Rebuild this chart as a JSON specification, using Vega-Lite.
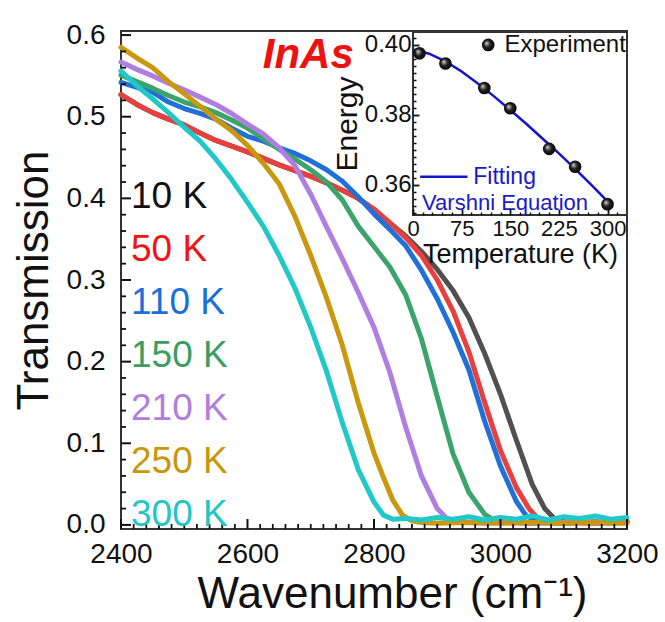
{
"$schema": "https://vega.github.io/schema/vega-lite/v6.json",
"width": 506, "height": 498,
"autosize": {"type": "none"},
"padding": {"left": 121, "top": 31, "right": 38, "bottom": 93},
"background": "white",
"config": {
 "font": "Liberation Sans",
 "view": {"stroke": "#333", "strokeWidth": 2},
 "axis": {"grid": false, "domainColor": "#333", "domainWidth": 2, "labelColor": "#111", "titleColor": "#111", "titleFontWeight": "normal", "labelFont": "Liberation Sans", "titleFont": "Liberation Sans", "labelOverlap": false, "labelFlush": false, "labelBound": false}
},
"datasets": {
 "xmaj": [{"v":2400},{"v":2600},{"v":2800},{"v":3000},{"v":3200}],
 "xmin": [{"v":2420},{"v":2440},{"v":2460},{"v":2480},{"v":2500},{"v":2520},{"v":2540},{"v":2560},{"v":2580},{"v":2620},{"v":2640},{"v":2660},{"v":2680},{"v":2700},{"v":2720},{"v":2740},{"v":2760},{"v":2780},{"v":2820},{"v":2840},{"v":2860},{"v":2880},{"v":2900},{"v":2920},{"v":2940},{"v":2960},{"v":2980},{"v":3020},{"v":3040},{"v":3060},{"v":3080},{"v":3100},{"v":3120},{"v":3140},{"v":3160},{"v":3180}],
 "ymaj": [{"v":0},{"v":0.1},{"v":0.2},{"v":0.3},{"v":0.4},{"v":0.5},{"v":0.6}],
 "ymin": [{"v":0.02},{"v":0.04},{"v":0.06},{"v":0.08},{"v":0.12},{"v":0.14},{"v":0.16},{"v":0.18},{"v":0.22},{"v":0.24},{"v":0.26},{"v":0.28},{"v":0.32},{"v":0.34},{"v":0.36},{"v":0.38},{"v":0.42},{"v":0.44},{"v":0.46},{"v":0.48},{"v":0.52},{"v":0.54},{"v":0.56},{"v":0.58}],
 "spectra": [
  {"s":"10 K","w":2400,"t":0.527},{"s":"10 K","w":2425,"t":0.515},{"s":"10 K","w":2450,"t":0.505},{"s":"10 K","w":2475,"t":0.497},{"s":"10 K","w":2500,"t":0.490},{"s":"10 K","w":2525,"t":0.480},{"s":"10 K","w":2550,"t":0.471},{"s":"10 K","w":2575,"t":0.464},{"s":"10 K","w":2600,"t":0.457},{"s":"10 K","w":2625,"t":0.449},{"s":"10 K","w":2650,"t":0.441},{"s":"10 K","w":2675,"t":0.434},{"s":"10 K","w":2700,"t":0.427},{"s":"10 K","w":2725,"t":0.419},{"s":"10 K","w":2750,"t":0.410},{"s":"10 K","w":2775,"t":0.400},{"s":"10 K","w":2800,"t":0.386},{"s":"10 K","w":2825,"t":0.370},{"s":"10 K","w":2850,"t":0.354},{"s":"10 K","w":2875,"t":0.335},{"s":"10 K","w":2900,"t":0.313},{"s":"10 K","w":2925,"t":0.287},{"s":"10 K","w":2950,"t":0.254},{"s":"10 K","w":2975,"t":0.210},{"s":"10 K","w":3000,"t":0.160},{"s":"10 K","w":3025,"t":0.104},{"s":"10 K","w":3050,"t":0.050},{"s":"10 K","w":3070,"t":0.020},{"s":"10 K","w":3085,"t":0.008},{"s":"10 K","w":3100,"t":0.004},{"s":"10 K","w":3125,"t":0.003},{"s":"10 K","w":3150,"t":0.002},{"s":"10 K","w":3175,"t":0.004},{"s":"10 K","w":3200,"t":0.003},
  {"s":"50 K","w":2400,"t":0.527},{"s":"50 K","w":2425,"t":0.515},{"s":"50 K","w":2450,"t":0.505},{"s":"50 K","w":2475,"t":0.497},{"s":"50 K","w":2500,"t":0.490},{"s":"50 K","w":2525,"t":0.480},{"s":"50 K","w":2550,"t":0.471},{"s":"50 K","w":2575,"t":0.464},{"s":"50 K","w":2600,"t":0.457},{"s":"50 K","w":2625,"t":0.449},{"s":"50 K","w":2650,"t":0.441},{"s":"50 K","w":2675,"t":0.434},{"s":"50 K","w":2700,"t":0.427},{"s":"50 K","w":2725,"t":0.419},{"s":"50 K","w":2750,"t":0.410},{"s":"50 K","w":2775,"t":0.400},{"s":"50 K","w":2800,"t":0.387},{"s":"50 K","w":2825,"t":0.370},{"s":"50 K","w":2850,"t":0.352},{"s":"50 K","w":2875,"t":0.330},{"s":"50 K","w":2900,"t":0.300},{"s":"50 K","w":2925,"t":0.262},{"s":"50 K","w":2950,"t":0.212},{"s":"50 K","w":2975,"t":0.150},{"s":"50 K","w":3000,"t":0.091},{"s":"50 K","w":3025,"t":0.046},{"s":"50 K","w":3045,"t":0.020},{"s":"50 K","w":3060,"t":0.007},{"s":"50 K","w":3075,"t":0.003},{"s":"50 K","w":3100,"t":0.002},{"s":"50 K","w":3125,"t":0.003},{"s":"50 K","w":3150,"t":0.002},{"s":"50 K","w":3175,"t":0.004},{"s":"50 K","w":3200,"t":0.005},
  {"s":"110 K","w":2400,"t":0.542},{"s":"110 K","w":2425,"t":0.536},{"s":"110 K","w":2450,"t":0.530},{"s":"110 K","w":2475,"t":0.518},{"s":"110 K","w":2500,"t":0.510},{"s":"110 K","w":2525,"t":0.504},{"s":"110 K","w":2550,"t":0.497},{"s":"110 K","w":2575,"t":0.486},{"s":"110 K","w":2600,"t":0.476},{"s":"110 K","w":2625,"t":0.470},{"s":"110 K","w":2650,"t":0.462},{"s":"110 K","w":2675,"t":0.455},{"s":"110 K","w":2700,"t":0.446},{"s":"110 K","w":2725,"t":0.435},{"s":"110 K","w":2750,"t":0.421},{"s":"110 K","w":2775,"t":0.402},{"s":"110 K","w":2800,"t":0.381},{"s":"110 K","w":2825,"t":0.362},{"s":"110 K","w":2850,"t":0.342},{"s":"110 K","w":2875,"t":0.312},{"s":"110 K","w":2900,"t":0.277},{"s":"110 K","w":2925,"t":0.236},{"s":"110 K","w":2950,"t":0.190},{"s":"110 K","w":2975,"t":0.127},{"s":"110 K","w":3000,"t":0.072},{"s":"110 K","w":3025,"t":0.029},{"s":"110 K","w":3040,"t":0.012},{"s":"110 K","w":3055,"t":0.005},{"s":"110 K","w":3075,"t":0.003},{"s":"110 K","w":3100,"t":0.002},{"s":"110 K","w":3125,"t":0.003},{"s":"110 K","w":3150,"t":0.004},{"s":"110 K","w":3175,"t":0.003},{"s":"110 K","w":3200,"t":0.004},
  {"s":"150 K","w":2400,"t":0.551},{"s":"150 K","w":2425,"t":0.543},{"s":"150 K","w":2450,"t":0.535},{"s":"150 K","w":2475,"t":0.526},{"s":"150 K","w":2500,"t":0.518},{"s":"150 K","w":2525,"t":0.512},{"s":"150 K","w":2550,"t":0.505},{"s":"150 K","w":2575,"t":0.496},{"s":"150 K","w":2600,"t":0.486},{"s":"150 K","w":2625,"t":0.473},{"s":"150 K","w":2650,"t":0.460},{"s":"150 K","w":2675,"t":0.448},{"s":"150 K","w":2700,"t":0.435},{"s":"150 K","w":2725,"t":0.420},{"s":"150 K","w":2750,"t":0.398},{"s":"150 K","w":2775,"t":0.366},{"s":"150 K","w":2800,"t":0.341},{"s":"150 K","w":2825,"t":0.316},{"s":"150 K","w":2850,"t":0.282},{"s":"150 K","w":2875,"t":0.228},{"s":"150 K","w":2900,"t":0.157},{"s":"150 K","w":2925,"t":0.087},{"s":"150 K","w":2950,"t":0.040},{"s":"150 K","w":2975,"t":0.013},{"s":"150 K","w":2990,"t":0.006},{"s":"150 K","w":3000,"t":0.004},{"s":"150 K","w":3025,"t":0.003},{"s":"150 K","w":3050,"t":0.002},{"s":"150 K","w":3075,"t":0.003},{"s":"150 K","w":3100,"t":0.002},{"s":"150 K","w":3125,"t":0.004},{"s":"150 K","w":3150,"t":0.003},{"s":"150 K","w":3175,"t":0.002},{"s":"150 K","w":3200,"t":0.003},
  {"s":"210 K","w":2400,"t":0.567},{"s":"210 K","w":2425,"t":0.558},{"s":"210 K","w":2450,"t":0.550},{"s":"210 K","w":2475,"t":0.541},{"s":"210 K","w":2500,"t":0.533},{"s":"210 K","w":2525,"t":0.524},{"s":"210 K","w":2550,"t":0.515},{"s":"210 K","w":2575,"t":0.504},{"s":"210 K","w":2600,"t":0.491},{"s":"210 K","w":2625,"t":0.479},{"s":"210 K","w":2650,"t":0.462},{"s":"210 K","w":2675,"t":0.440},{"s":"210 K","w":2700,"t":0.405},{"s":"210 K","w":2725,"t":0.365},{"s":"210 K","w":2750,"t":0.326},{"s":"210 K","w":2775,"t":0.285},{"s":"210 K","w":2800,"t":0.242},{"s":"210 K","w":2825,"t":0.187},{"s":"210 K","w":2850,"t":0.120},{"s":"210 K","w":2875,"t":0.060},{"s":"210 K","w":2900,"t":0.020},{"s":"210 K","w":2915,"t":0.008},{"s":"210 K","w":2930,"t":0.004},{"s":"210 K","w":2950,"t":0.003},{"s":"210 K","w":2975,"t":0.002},{"s":"210 K","w":3000,"t":0.003},{"s":"210 K","w":3050,"t":0.002},{"s":"210 K","w":3100,"t":0.003},{"s":"210 K","w":3150,"t":0.002},{"s":"210 K","w":3200,"t":0.003},
  {"s":"250 K","w":2400,"t":0.585},{"s":"250 K","w":2425,"t":0.572},{"s":"250 K","w":2450,"t":0.560},{"s":"250 K","w":2475,"t":0.543},{"s":"250 K","w":2500,"t":0.528},{"s":"250 K","w":2525,"t":0.513},{"s":"250 K","w":2550,"t":0.497},{"s":"250 K","w":2575,"t":0.483},{"s":"250 K","w":2600,"t":0.465},{"s":"250 K","w":2625,"t":0.443},{"s":"250 K","w":2650,"t":0.418},{"s":"250 K","w":2675,"t":0.378},{"s":"250 K","w":2700,"t":0.330},{"s":"250 K","w":2725,"t":0.278},{"s":"250 K","w":2750,"t":0.220},{"s":"250 K","w":2775,"t":0.150},{"s":"250 K","w":2800,"t":0.088},{"s":"250 K","w":2815,"t":0.058},{"s":"250 K","w":2830,"t":0.030},{"s":"250 K","w":2845,"t":0.012},{"s":"250 K","w":2860,"t":0.005},{"s":"250 K","w":2875,"t":0.003},{"s":"250 K","w":2900,"t":0.002},{"s":"250 K","w":2950,"t":0.003},{"s":"250 K","w":3000,"t":0.002},{"s":"250 K","w":3050,"t":0.003},{"s":"250 K","w":3100,"t":0.002},{"s":"250 K","w":3150,"t":0.003},{"s":"250 K","w":3200,"t":0.002},
  {"s":"300 K","w":2400,"t":0.556},{"s":"300 K","w":2425,"t":0.538},{"s":"300 K","w":2450,"t":0.522},{"s":"300 K","w":2475,"t":0.505},{"s":"300 K","w":2500,"t":0.487},{"s":"300 K","w":2525,"t":0.470},{"s":"300 K","w":2550,"t":0.448},{"s":"300 K","w":2575,"t":0.423},{"s":"300 K","w":2600,"t":0.395},{"s":"300 K","w":2625,"t":0.366},{"s":"300 K","w":2650,"t":0.330},{"s":"300 K","w":2675,"t":0.290},{"s":"300 K","w":2700,"t":0.242},{"s":"300 K","w":2725,"t":0.188},{"s":"300 K","w":2750,"t":0.125},{"s":"300 K","w":2775,"t":0.068},{"s":"300 K","w":2800,"t":0.028},{"s":"300 K","w":2815,"t":0.012},{"s":"300 K","w":2830,"t":0.007},{"s":"300 K","w":2850,"t":0.008},{"s":"300 K","w":2875,"t":0.006},{"s":"300 K","w":2900,"t":0.009},{"s":"300 K","w":2925,"t":0.007},{"s":"300 K","w":2950,"t":0.010},{"s":"300 K","w":2975,"t":0.006},{"s":"300 K","w":3000,"t":0.009},{"s":"300 K","w":3025,"t":0.007},{"s":"300 K","w":3050,"t":0.011},{"s":"300 K","w":3075,"t":0.006},{"s":"300 K","w":3100,"t":0.010},{"s":"300 K","w":3125,"t":0.008},{"s":"300 K","w":3150,"t":0.011},{"s":"300 K","w":3175,"t":0.007},{"s":"300 K","w":3200,"t":0.009}
 ],
 "fit": [
  {"T":0,"E":0.3987},{"T":25,"E":0.3975},{"T":50,"E":0.3953},{"T":75,"E":0.3924},{"T":100,"E":0.3890},{"T":125,"E":0.3853},{"T":150,"E":0.3814},{"T":175,"E":0.3774},{"T":200,"E":0.3732},{"T":225,"E":0.3690},{"T":250,"E":0.3646},{"T":275,"E":0.3600},{"T":300,"E":0.3553}
 ],
 "exp": [
  {"T":10,"E":0.3976},{"T":50,"E":0.3947},{"T":110,"E":0.3877},{"T":150,"E":0.3819},{"T":210,"E":0.3703},{"T":250,"E":0.3652},{"T":300,"E":0.3545}
 ]
},
"layer": [
 {
  "layer": [
   {"data": {"name": "spectra"},
    "mark": {"type": "line", "strokeWidth": 5, "strokeJoin": "round", "strokeCap": "round"},
    "encoding": {
     "x": {"field": "w", "type": "quantitative", "title": "Wavenumber (cm⁻¹)",
      "scale": {"domain": [2400, 3200], "nice": false, "zero": false},
      "axis": {"orient": "bottom", "values": [2400, 2600, 2800, 3000, 3200], "format": "d", "ticks": false, "domain": false,
       "labelPadding": 11, "labelFontSize": 28, "titleFontSize": 44, "titlePadding": 4, "titleX": 271}},
     "y": {"field": "t", "type": "quantitative", "title": "Transmission",
      "scale": {"domain": [-0.005, 0.605], "nice": false, "zero": false},
      "axis": {"orient": "left", "values": [0, 0.1, 0.2, 0.3, 0.4, 0.5, 0.6], "format": ".1f", "ticks": false, "domain": false,
       "labelPadding": 16, "labelFontSize": 28, "titleFontSize": 44, "titlePadding": 10}},
     "color": {"field": "s", "type": "nominal",
      "scale": {"domain": ["10 K","50 K","110 K","150 K","210 K","250 K","300 K"], "range": ["#505050","#e8403e","#2070d8","#3aa46a","#b07ee0","#c9980e","#20c8c8"]},
      "legend": {"orient": "none", "legendX": -27, "legendY": 147.5, "title": null, "padding": 0, "symbolSize": 0, "symbolStrokeWidth": 0, "symbolOpacity": 0, "labelOffset": 0, "labelFontSize": 37, "labelFont": "Liberation Sans", "rowPadding": 15, "labelLimit": 0,
       "labelColor": {"expr": "datum.value === '10 K' ? '#111111' : datum.value === '50 K' ? '#f01414' : datum.value === '110 K' ? '#1a6fdc' : datum.value === '150 K' ? '#3a9e62' : datum.value === '210 K' ? '#b07ee0' : datum.value === '250 K' ? '#c9970c' : '#22c6c6'"}}}}},
   {"data": {"name": "xmaj"},
    "mark": {"type": "rule", "color": "#111111", "strokeWidth": 2},
    "encoding": {"x": {"field": "v", "type": "quantitative", "title": "Wavenumber (cm⁻¹)"}, "y": {"datum": -0.005, "type": "quantitative"}, "y2": {"datum": 0.0073}}},
   {"data": {"name": "xmin"},
    "mark": {"type": "rule", "color": "#111111", "strokeWidth": 1.8},
    "encoding": {"x": {"field": "v", "type": "quantitative", "title": "Wavenumber (cm⁻¹)"}, "y": {"datum": -0.005, "type": "quantitative"}, "y2": {"datum": 0.0011}}},
   {"data": {"name": "ymaj"},
    "mark": {"type": "rule", "color": "#111111", "strokeWidth": 2},
    "encoding": {"y": {"field": "v", "type": "quantitative", "title": "Transmission"}, "x": {"datum": 2400, "type": "quantitative"}, "x2": {"datum": 2415.8}}},
   {"data": {"name": "ymin"},
    "mark": {"type": "rule", "color": "#111111", "strokeWidth": 1.8},
    "encoding": {"y": {"field": "v", "type": "quantitative", "title": "Transmission"}, "x": {"datum": 2400, "type": "quantitative"}, "x2": {"datum": 2407.9}}},
   {"data": {"values": [{}]},
    "mark": {"type": "text", "text": "InAs", "font": "Liberation Sans", "fontSize": 42, "fontWeight": "bold", "fontStyle": "italic", "color": "#ee1111", "align": "center", "baseline": "middle"},
    "encoding": {"x": {"datum": 2696, "type": "quantitative"}, "y": {"datum": 0.576, "type": "quantitative"}}}
  ]
 },
 {
  "layer": [
   {"data": {"values": [{}]},
    "mark": {"type": "rect", "fill": "white", "stroke": "#333", "strokeWidth": 2},
    "encoding": {"x": {"datum": 0, "type": "quantitative"}, "x2": {"datum": 330}, "y": {"datum": 0.3514, "type": "quantitative"}, "y2": {"datum": 0.4037}}},
   {"data": {"name": "fit"},
    "mark": {"type": "line", "color": "#1414c8", "strokeWidth": 2.5},
    "encoding": {
     "x": {"field": "T", "type": "quantitative",
      "scale": {"domain": [0, 330], "range": [292, 506], "nice": false, "zero": false},
      "axis": {"orient": "bottom", "offset": -320, "values": [0, 75, 150, 225, 300], "tickSize": 6, "tickColor": "#111111", "tickWidth": 1.8, "domain": false, "zindex": 1,
       "labelPadding": 3, "labelFontSize": 22, "title": "Temperature (K)", "titleFontSize": 27, "titlePadding": 2}},
     "y": {"field": "E", "type": "quantitative",
      "scale": {"domain": [0.3514, 0.4037], "range": [184, 1], "nice": false, "zero": false},
      "axis": {"orient": "left", "offset": -298, "values": [0.36, 0.38, 0.40], "format": ".2f", "tickSize": 6, "tickColor": "#111111", "tickWidth": 1.8, "domain": false, "zindex": 1,
       "labelPadding": 2, "labelFontSize": 24, "title": "Energy", "titleFontSize": 30, "titlePadding": 2}}}},
   {"data": {"name": "exp"},
    "mark": {"type": "point", "filled": true, "size": 160, "opacity": 1, "strokeWidth": 0,
     "fill": {"gradient": "radial", "x1": 0.35, "y1": 0.35, "r1": 0, "x2": 0.5, "y2": 0.5, "r2": 0.6, "stops": [{"offset": 0, "color": "#d8d8d8"}, {"offset": 0.45, "color": "#202020"}, {"offset": 1, "color": "#000000"}]}},
    "encoding": {"x": {"field": "T", "type": "quantitative"}, "y": {"field": "E", "type": "quantitative"}}},
   {"data": {"values": [{}]},
    "mark": {"type": "point", "filled": true, "size": 160, "opacity": 1, "strokeWidth": 0,
     "fill": {"gradient": "radial", "x1": 0.35, "y1": 0.35, "r1": 0, "x2": 0.5, "y2": 0.5, "r2": 0.6, "stops": [{"offset": 0, "color": "#d8d8d8"}, {"offset": 0.45, "color": "#202020"}, {"offset": 1, "color": "#000000"}]}},
    "encoding": {"x": {"datum": 116, "type": "quantitative"}, "y": {"datum": 0.4, "type": "quantitative"}}},
   {"data": {"values": [{}]},
    "mark": {"type": "text", "text": "Experiment", "fontSize": 24, "color": "#111", "align": "left", "baseline": "middle"},
    "encoding": {"x": {"datum": 141, "type": "quantitative"}, "y": {"datum": 0.4, "type": "quantitative"}}},
   {"data": {"values": [{}]},
    "mark": {"type": "rule", "color": "#1414c8", "strokeWidth": 2.5},
    "encoding": {"x": {"datum": 11, "type": "quantitative"}, "x2": {"datum": 84}, "y": {"datum": 0.3623, "type": "quantitative"}}},
   {"data": {"values": [{}]},
    "mark": {"type": "text", "text": "Fitting", "fontSize": 23, "color": "#1a1ac8", "align": "left", "baseline": "middle"},
    "encoding": {"x": {"datum": 93, "type": "quantitative"}, "y": {"datum": 0.3623, "type": "quantitative"}}},
   {"data": {"values": [{}]},
    "mark": {"type": "text", "text": "Varshni Equation", "fontSize": 22, "color": "#1a1ac8", "align": "left", "baseline": "middle"},
    "encoding": {"x": {"datum": 14, "type": "quantitative"}, "y": {"datum": 0.3548, "type": "quantitative"}}}
  ]
 },
 {
  "data": {"values": [{}]},
  "mark": {"type": "point", "opacity": 0},
  "encoding": {
   "x": {"datum": 0, "type": "quantitative", "scale": {"domain": [0, 330], "range": [292, 506], "nice": false, "zero": false},
    "axis": {"orient": "bottom", "offset": -317, "values": [15,30,45,60,90,105,120,135,165,180,195,210,240,255,270,285,315],
     "tickSize": 3, "tickColor": "#111111", "labels": false, "domain": false, "title": null, "tickWidth": 1.5, "zindex": 1}},
   "y": {"datum": 0.38, "type": "quantitative", "scale": {"domain": [0.3514, 0.4037], "range": [184, 1], "nice": false, "zero": false},
    "axis": {"orient": "left", "offset": -295, "values": [0.352,0.354,0.356,0.358,0.362,0.364,0.366,0.368,0.37,0.372,0.374,0.376,0.378,0.382,0.384,0.386,0.388,0.39,0.392,0.394,0.396,0.398,0.402],
     "tickSize": 3, "tickColor": "#111111", "labels": false, "domain": false, "title": null, "tickWidth": 1.5, "zindex": 1}}
  }
 }
],
"resolve": {"scale": {"x": "independent", "y": "independent"}, "axis": {"x": "independent", "y": "independent"}}
}
